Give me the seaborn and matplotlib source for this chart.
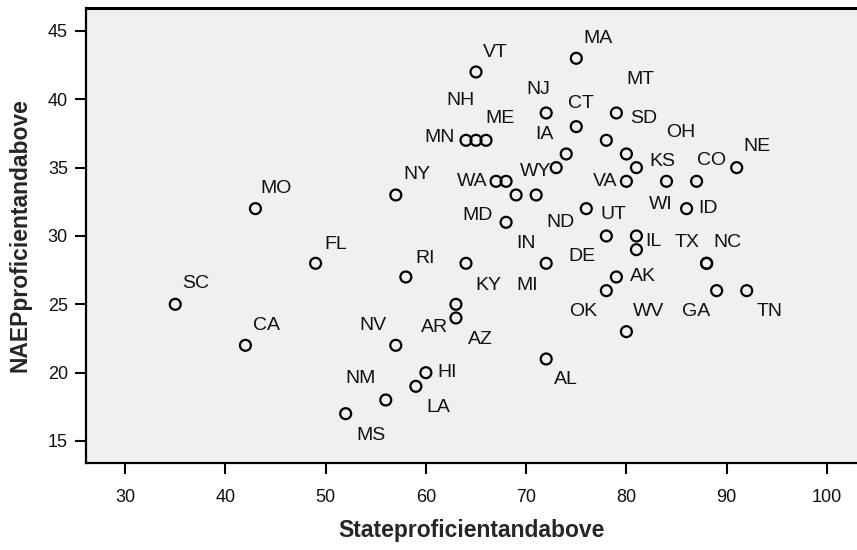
import numpy as np
import pandas as pd
import seaborn as sns
import matplotlib
matplotlib.use("Agg")
import matplotlib.pyplot as plt

# Data (state % proficient vs NAEP % proficient)
states = ["SC", "CA", "MO", "FL", "MS", "NM", "NY", "NV", "RI", "LA",
          "HI", "AR", "AZ", "KY", "MN", "NH", "ME", "VT", "WA", "OR",
          "MD", "IN", "ND", "MI", "NJ", "AL", "WY", "IA", "MA", "CT",
          "UT", "SD", "DE", "OK", "AK", "MT", "OH", "VA", "WV", "KS",
          "IL", "PA", "WI", "ID", "CO", "TX", "NC", "GA", "TN", "NE"]
state_prof = [35, 42, 43, 49, 52, 56, 57, 57, 58, 59,
              60, 63, 63, 64, 64, 65, 66, 65, 67, 68,
              68, 69, 71, 72, 72, 72, 73, 74, 75, 75,
              76, 78, 78, 78, 79, 79, 80, 80, 80, 81,
              81, 81, 84, 86, 87, 88, 88, 89, 92, 91]
naep_prof = [25, 22, 32, 28, 17, 18, 33, 22, 27, 19,
             20, 25, 24, 28, 37, 37, 37, 42, 34, 34,
             31, 33, 33, 28, 39, 21, 35, 36, 43, 38,
             32, 37, 30, 26, 27, 39, 36, 34, 23, 35,
             30, 29, 34, 32, 34, 28, 28, 26, 26, 35]
# points drawn without a label in the original
unlabeled = ["OR", "PA"]

df = pd.DataFrame({"state": states, "x": state_prof, "y": naep_prof})

# label placement (pixel offsets from the point to the label centre)
label_offsets = {
    "VT": (19, -19), "MA": (22, -20), "MT": (24, -33), "SD": (37, -22),
    "NJ": (-8, -23), "CT": (5, -23), "NH": (-16, -40), "ME": (14, -22),
    "MN": (-26, -3), "IA": (-22, -19), "WY": (-21, 4), "KS": (26, -6),
    "CO": (15, -21), "NE": (20, -21), "WA": (-24, 0), "VA": (-21, 0),
    "WI": (-6, 23), "ID": (21, 0), "NY": (21, -20), "MO": (21, -20),
    "MD": (-29, -7), "ND": (24, 28), "UT": (27, 6), "FL": (20, -19),
    "RI": (19, -18), "IN": (10, 49), "MI": (-19, 22), "DE": (-24, 21),
    "IL": (17, 6), "TX": (-20, -21), "NC": (21, -21), "SC": (20, -21),
    "KY": (22, 22), "AK": (27, 0), "OK": (-23, 21), "GA": (-21, 21),
    "TN": (23, 21), "WV": (22, -20), "CA": (21, -20), "NV": (-23, -20),
    "AR": (-21, 23), "AZ": (24, 22), "NM": (-25, -21), "MS": (25, 22),
    "HI": (21, 0), "LA": (22, 21), "AL": (20, 21), "OH": (54, -21),
}

sns.set_style("ticks")
plt.rcParams["font.family"] = ["Liberation Sans", "DejaVu Sans"]

fig = plt.figure(figsize=(8.57, 5.5), dpi=100)
ax = fig.add_axes([86 / 857, 87 / 550, 771 / 857, 455 / 550])
ax.set_facecolor("#f0f0f0")

sns.scatterplot(data=df, x="x", y="y", ax=ax, marker="o", s=62,
                facecolor="none", edgecolor="black", linewidth=1.6, zorder=3)

for name, x, y in zip(states, state_prof, naep_prof):
    if name in unlabeled:
        continue
    dx, dy = label_offsets[name]
    ax.annotate(name, (x, y), xytext=(dx, -dy), textcoords="offset pixels",
                ha="center", va="center", fontsize=14, color="#111111")

ax.set_xlim(26.1, 103.0)
ax.set_ylim(13.39, 46.68)
ax.set_xticks([30, 40, 50, 60, 70, 80, 90, 100])
ax.set_yticks([15, 20, 25, 30, 35, 40, 45])
ax.tick_params(direction="out", length=8, width=1.5, labelsize=13, pad=5,
               color="black", labelcolor="#111111")
ax.tick_params(axis="x", pad=11)

for side in ["left", "bottom", "top"]:
    ax.spines[side].set_visible(True)
    ax.spines[side].set_color("black")
    ax.spines[side].set_linewidth(1.6)
ax.spines["top"].set_linewidth(2.2)
ax.spines["right"].set_visible(False)

ax.set_xlabel("Stateproficientandabove", fontsize=16.5, fontweight="bold", labelpad=9)
ax.set_ylabel("NAEPproficientandabove", fontsize=16.5, fontweight="bold", labelpad=12)

fig.savefig("out.png", dpi=100)
